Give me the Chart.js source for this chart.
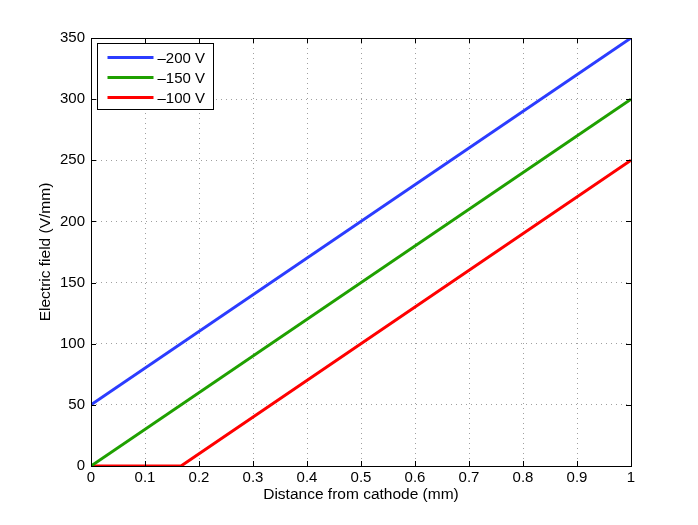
<!DOCTYPE html>
<html lang="en">
<head>
<meta charset="UTF-8">
<title>Electric field vs distance</title>
<script src="https://cdn.jsdelivr.net/npm/chart.js"></script>
<style>
  html, body { margin: 0; padding: 0; background: #fff; }
  #wrap { width: 698px; height: 525px; }
</style>
</head>
<body>
<div id="wrap"><canvas id="fieldChart"></canvas></div>
<script>
// values
const seriesLabels = ['\u2013200 V', '\u2013150 V', '\u2013100 V'];
const seriesColors = ['#2b3cff', '#1fa000', '#ff0000'];
const x200 = [0, 1];
const y200 = [50, 350];
const x150 = [0, 1];
const y150 = [0, 300];
const x100 = [0, 0.1667, 1];
const y100 = [0, 0, 250];
const xTicks = [0, 0.1, 0.2, 0.3, 0.4, 0.5, 0.6, 0.7, 0.8, 0.9, 1];
const yTicks = [0, 50, 100, 150, 200, 250, 300, 350];

const font = 'Liberation Sans, Arial, Helvetica, sans-serif';

function pts(xs, ys) {
  return xs.map((x, i) => ({ x: x, y: ys[i] }));
}

// box + inward ticks on all sides, and the boxed legend in the top left corner
const matlabAxes = {
  id: 'matlabAxes',
  afterDatasetsDraw(chart) {
    const ctx = chart.ctx;
    const a = chart.chartArea;
    const xs = chart.scales.x, ys = chart.scales.y;
    ctx.save();
    ctx.strokeStyle = '#000';
    ctx.lineWidth = 1;
    ctx.beginPath();
    xTicks.forEach(t => {
      const px = Math.round(xs.getPixelForValue(t)) + 0.5;
      ctx.moveTo(px, a.bottom); ctx.lineTo(px, a.bottom - 5);
      ctx.moveTo(px, a.top); ctx.lineTo(px, a.top + 5);
    });
    yTicks.forEach(t => {
      const py = Math.round(ys.getPixelForValue(t)) + 0.5;
      ctx.moveTo(a.left, py); ctx.lineTo(a.left + 5, py);
      ctx.moveTo(a.right, py); ctx.lineTo(a.right - 5, py);
    });
    ctx.stroke();
    ctx.strokeRect(Math.round(a.left) + 0.5, Math.round(a.top) + 0.5,
      Math.round(a.right - a.left), Math.round(a.bottom - a.top));

    // legend
    const lx = a.left + 6.5, ly = a.top + 5.5, lw = 116, lh = 66;
    ctx.fillStyle = '#fff';
    ctx.fillRect(lx, ly, lw, lh);
    ctx.strokeRect(lx, ly, lw, lh);
    ctx.font = '15px ' + font;
    ctx.textBaseline = 'middle';
    chart.data.datasets.forEach((ds, i) => {
      const yy = ly + 14 + i * 20;
      ctx.strokeStyle = ds.borderColor;
      ctx.lineWidth = 3;
      ctx.beginPath();
      ctx.moveTo(lx + 10, yy); ctx.lineTo(lx + 56, yy);
      ctx.stroke();
      ctx.fillStyle = '#000';
      ctx.fillText(ds.label, lx + 60, yy + 1);
    });
    ctx.restore();
  }
};

const ctx = document.getElementById('fieldChart').getContext('2d');
new Chart(ctx, {
  type: 'scatter',
  data: {
    datasets: [
      { label: seriesLabels[0], data: pts(x200, y200), borderColor: seriesColors[0] },
      { label: seriesLabels[1], data: pts(x150, y150), borderColor: seriesColors[1] },
      { label: seriesLabels[2], data: pts(x100, y100), borderColor: seriesColors[2] }
    ].map(d => Object.assign(d, { showLine: true, borderWidth: 3, pointRadius: 0, fill: false, tension: 0 }))
  },
  options: {
    responsive: true,
    maintainAspectRatio: false,
    animation: false,
    layout: { padding: { left: 36, right: 67, top: 38, bottom: 21 } },
    plugins: {
      legend: { display: false },
      tooltip: { enabled: false }
    },
    scales: {
      x: {
        type: 'linear', min: 0, max: 1,
        afterBuildTicks: s => { s.ticks = xTicks.map(v => ({ value: v })); },
        afterFit: s => { s.height = 38; },
        ticks: { color: '#000', font: { family: font, size: 15 }, padding: 3,
          maxRotation: 0, callback: v => String(v) },
        grid: { color: '#a0a0a0', drawTicks: false, lineWidth: 1 },
        border: { display: false, dash: [1, 4] },
        title: { display: true, text: 'Distance from cathode (mm)', color: '#000',
          font: { family: font, size: 15.5 }, padding: 0 }
      },
      y: {
        type: 'linear', min: 0, max: 350,
        afterBuildTicks: s => { s.ticks = yTicks.map(v => ({ value: v })); },
        afterFit: s => { s.width = 55; },
        ticks: { color: '#000', font: { family: font, size: 15 }, padding: 6 },
        grid: { color: '#a0a0a0', drawTicks: false, lineWidth: 1 },
        border: { display: false, dash: [1, 4] },
        title: { display: true, text: 'Electric field (V/mm)', color: '#000',
          font: { family: font, size: 15.5 }, padding: 0 }
      }
    }
  },
  plugins: [matlabAxes]
});
</script>
</body>
</html>
